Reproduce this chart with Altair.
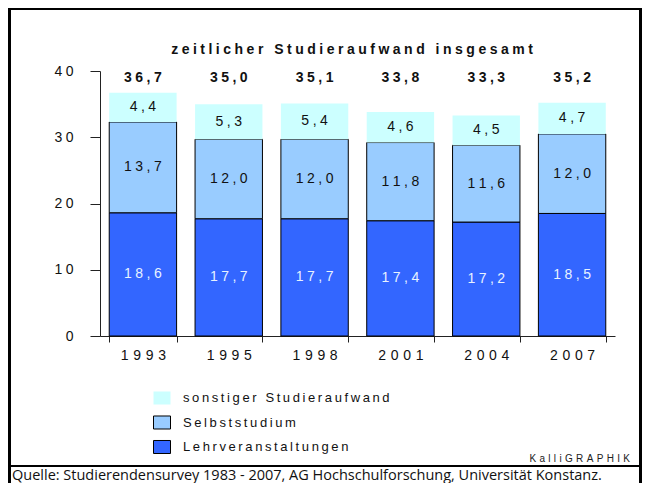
import altair as alt
import pandas as pd

# ---------------- data ----------------
years = ["1993", "1995", "1998", "2001", "2004", "2007"]
lehr = [18.6, 17.7, 17.7, 17.4, 17.2, 18.5]
selbst = [13.7, 12.0, 12.0, 11.8, 11.6, 12.0]
sonst = [4.4, 5.3, 5.4, 4.6, 4.5, 4.7]
totals = [36.7, 35.0, 35.1, 33.8, 33.3, 35.2]
categories = ["sonstiger Studieraufwand", "Selbststudium", "Lehrveranstaltungen"]
colors = ["#CCFFFF", "#99CCFF", "#3366FF"]
strokes = ["transparent", "#000000", "#000000"]
title_text = "zeitlicher Studieraufwand insgesamt"
credit_text = "KalliGRAPHIK"
source_text = "Quelle: Studierendensurvey 1983 - 2007, AG Hochschulforschung, Universität Konstanz."

FONT = "Liberation Sans, Arial, sans-serif"
SP4 = "\u2004"  # three-per-em space
SP5 = "\u2005"  # four-per-em space
SP9 = "\u2009"  # thin space


def spaced(s, sep):
    return sep.join(list(s))


series = {"Lehrveranstaltungen": lehr, "Selbststudium": selbst, "sonstiger Studieraufwand": sonst}
order_of = {"Lehrveranstaltungen": 0, "Selbststudium": 1, "sonstiger Studieraufwand": 2}
rows = []
for cat, vals in series.items():
    for yr, v in zip(years, vals):
        rows.append({"year": yr, "cat": cat, "value": v, "ord": order_of[cat]})
df = pd.DataFrame(rows)
tot_df = pd.DataFrame({"year": years, "total": totals})
one = pd.DataFrame({"k": [0]})

x_enc = alt.X(
    "year:N",
    sort=years,
    scale=alt.Scale(domain=years, paddingInner=0.215, paddingOuter=0.1075),
    axis=alt.Axis(
        title=None, tickBand="extent", labelAngle=0, tickSize=6, labelPadding=6,
        labelFont=FONT, labelFontSize=14, labelColor="#111111",
        domainColor="#222222", tickColor="#222222",
        labelExpr=f"join(split(datum.label, ''), '{SP4}')",
    ),
)

legend = alt.Legend(
    title=None, orient="none", legendX=53, legendY=318, direction="vertical",
    symbolType="M-1,-0.765L1,-0.765L1,0.765L-1,0.765Z", symbolSize=289,
    symbolStrokeWidth=1, labelFont=FONT, labelFontSize=13, labelColor="#111111",
    labelOffset=12, rowPadding=6.5, padding=0, labelLimit=500,
    labelExpr=f"join(split(datum.label, ''), '{SP9}')",
)

bars = alt.Chart(df).mark_bar(strokeWidth=1).encode(
    x=x_enc,
    y=alt.Y(
        "value:Q", stack="zero", scale=alt.Scale(domain=[0, 40], nice=False),
        axis=alt.Axis(
            title=None, values=[0, 10, 20, 30, 40], tickSize=10, labelPadding=17, grid=False,
            labelFont=FONT, labelFontSize=14, labelColor="#111111",
            domainColor="#222222", tickColor="#222222",
            labelExpr=f"join(split(datum.label, ''), '{SP5}')",
        ),
    ),
    fill=alt.Fill("cat:N", scale=alt.Scale(domain=categories, range=colors), legend=legend),
    stroke=alt.Stroke("cat:N", scale=alt.Scale(domain=categories, range=strokes), legend=legend),
    order=alt.Order("ord:Q"),
)

seg_labels = alt.Chart(df).transform_stack(
    stack="value", groupby=["year"], as_=["v0", "v1"], sort=[alt.SortField("ord", order="ascending")]
).transform_calculate(
    mid="(datum.v0 + datum.v1) / 2",
    lab=f"join(split(replace(format(datum.value, '.1f'), '.', ','), ''), '{SP5}')",
).mark_text(font=FONT, fontSize=14, baseline="middle", align="center").encode(
    x=alt.X("year:N", sort=years),
    y=alt.Y("mid:Q"),
    text="lab:N",
    color=alt.condition(alt.datum.cat == "Lehrveranstaltungen", alt.value("#E8F2FF"), alt.value("#111111")),
)

tot_labels = alt.Chart(tot_df).transform_calculate(
    lab=f"join(split(replace(format(datum.total, '.1f'), '.', ','), ''), '{SP5}')",
).mark_text(font=FONT, fontSize=14, fontWeight="bold", baseline="middle", align="center", color="#111111").encode(
    x=alt.X("year:N", sort=years),
    y=alt.value(7),
    text="lab:N",
)

title = alt.Chart(one).mark_text(
    font=FONT, fontSize=14, fontWeight="bold", baseline="middle", align="center", color="#111111"
).encode(x=alt.value(252), y=alt.value(-21), text=alt.value(spaced(title_text, SP5)))

credit = alt.Chart(one).mark_text(
    font=FONT, fontSize=10, baseline="middle", align="right", color="#222222"
).encode(x=alt.value(530), y=alt.value(388), text=alt.value(spaced(credit_text, SP4)))

source = alt.Chart(one).mark_text(
    font="Open Sans, Liberation Sans, sans-serif", fontSize=14.5, baseline="alphabetic",
    align="left", color="#111111"
).encode(x=alt.value(-88), y=alt.value(408.5), text=alt.value(source_text))

frame_left = alt.Chart(one).mark_rule(strokeWidth=3, color="#000000").encode(
    x=alt.value(-90.5), y=alt.value(-63), y2=alt.value(412))
frame_right = alt.Chart(one).mark_rule(strokeWidth=3, color="#000000").encode(
    x=alt.value(540.5), y=alt.value(-63), y2=alt.value(412))
frame_top = alt.Chart(one).mark_rule(strokeWidth=2, color="#000000").encode(
    x=alt.value(-92), x2=alt.value(542), y=alt.value(-62))
frame_sep = alt.Chart(one).mark_rule(strokeWidth=2, color="#000000").encode(
    x=alt.value(-92), x2=alt.value(542), y=alt.value(395))

chart = alt.layer(
    bars, seg_labels, tot_labels, title, credit, source,
    frame_left, frame_right, frame_top, frame_sep,
).properties(
    width=515, height=265,
    padding={"left": 92, "top": 63, "right": 27, "bottom": 147},
    autosize=alt.AutoSizeParams(type="none"),
    background="white",
).configure_view(stroke=None)

chart.save("out.html", embed_options={"renderer": "svg", "actions": False})
